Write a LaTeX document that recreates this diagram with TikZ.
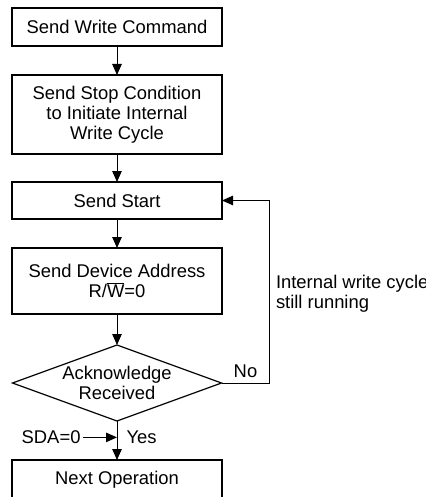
\documentclass[tikz,border=0pt]{standalone}
\usepackage{fontspec}
\setmainfont{Liberation Sans}
\usetikzlibrary{arrows.meta, calc, positioning, shapes.geometric}

\begin{document}
\begin{tikzpicture}[x=1pt, y=1pt, line width=1pt, >={Triangle[length=11pt,width=9.5pt]},
    procbox/.style={draw, line width=1.2pt, minimum width=210pt, inner sep=0pt, outer sep=0pt,
      align=center, font={\fontsize{18.4}{20}\selectfont}},
    decide/.style={draw, diamond, aspect=2.75, line width=1.2pt, minimum width=209pt,
      minimum height=76pt, inner sep=-4pt, outer sep=0pt, align=center,
      font={\fontsize{18.4}{20}\selectfont}},
    note/.style={inner sep=2pt, font={\fontsize{18.4}{20}\selectfont}}]
    \useasboundingbox (0,0) rectangle (425,-497);

    \node (cmd) [procbox, minimum height=38pt] at (117,-27) {Send Write Command};
    \node (stop) [procbox, minimum height=79pt, below=29pt of cmd]
    {Send Stop Condition\\to Initiate Internal\\Write Cycle};
    \node (start) [procbox, minimum height=37pt, below=28pt of stop] {Send Start};
    \node (addr) [procbox, minimum height=66pt, below=29pt of start]
    {Send Device Address\\R/$\overline{\hbox{W}}$=0};
    \node (ack) [decide, below=31pt of addr] {Acknowledge\\Received};
    \node (next) [procbox, minimum height=40pt, below=38pt of ack, yshift=-1pt] {Next Operation};

    \foreach \a/\b in {cmd/stop, stop/start, start/addr, addr/ack, ack/next}{
      \draw[->] (\a) -- (\b);
    }

    \coordinate (loop) at ($(ack.east)+(48,0)$);
    \draw[->]
    (ack.east) -- node[note, above=3pt] {No} (loop)
    |- (start.east);

    \node (runnote) [note, anchor=west, align=left] at ($(loop)+(4,89)$)
    {Internal write cycle\\still running};

    \coordinate (yesjoin) at ($(ack.south)!0.42!(next.north)$);
    \node (sda) [note, left=34pt of yesjoin] {SDA=0};
    \node (yes) [note, right=7pt of yesjoin] {Yes};
    \draw[->] (sda) -- (yesjoin);
\end{tikzpicture}
\end{document}
